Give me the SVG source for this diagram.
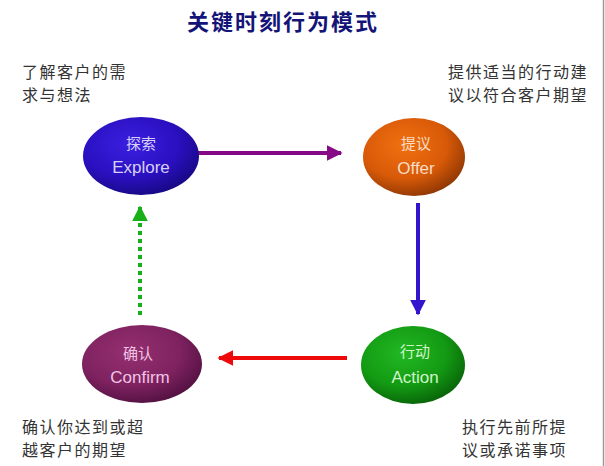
<svg xmlns="http://www.w3.org/2000/svg" width="605" height="466" viewBox="0 0 605 466">
<defs>
<style>
.lbl{font-family:"Liberation Sans","Noto Sans CJK SC",sans-serif;font-size:16px;fill:#333;letter-spacing:1.5px}
.nt{font-family:"Liberation Sans","Noto Sans CJK SC",sans-serif;text-anchor:middle}
.cn{font-size:15px}
.en{font-size:17px}
</style>
<radialGradient id="gE" cx="0.4" cy="0.35" r="0.7"><stop offset="0" stop-color="#3a20e0"/><stop offset="0.6" stop-color="#2a10c0"/><stop offset="1" stop-color="#160880"/></radialGradient>
<radialGradient id="gO" cx="0.4" cy="0.35" r="0.7"><stop offset="0" stop-color="#f07010"/><stop offset="0.6" stop-color="#d85a08"/><stop offset="1" stop-color="#8a3504"/></radialGradient>
<radialGradient id="gC" cx="0.4" cy="0.35" r="0.7"><stop offset="0" stop-color="#953070"/><stop offset="0.6" stop-color="#7f2260"/><stop offset="1" stop-color="#501040"/></radialGradient>
<radialGradient id="gA" cx="0.4" cy="0.35" r="0.7"><stop offset="0" stop-color="#22b822"/><stop offset="0.6" stop-color="#139a13"/><stop offset="1" stop-color="#086008"/></radialGradient>
<marker id="mP" viewBox="0 0 10 10" refX="9" refY="5" markerWidth="4" markerHeight="4" orient="auto" markerUnits="strokeWidth"><path d="M0,0 L10,5 L0,10 z" fill="#860a86"/></marker>
<marker id="mB" viewBox="0 0 10 10" refX="9" refY="5" markerWidth="4" markerHeight="4" orient="auto" markerUnits="strokeWidth"><path d="M0,0 L10,5 L0,10 z" fill="#3414cc"/></marker>
<marker id="mR" viewBox="0 0 10 10" refX="9" refY="5" markerWidth="4" markerHeight="4" orient="auto" markerUnits="strokeWidth"><path d="M0,0 L10,5 L0,10 z" fill="#ee0a0a"/></marker>
<marker id="mG" viewBox="0 0 10 10" refX="9" refY="5" markerWidth="4" markerHeight="4" orient="auto" markerUnits="strokeWidth"><path d="M0,0 L10,5 L0,10 z" fill="#18b018"/></marker>
</defs>
<rect width="605" height="466" fill="#fff"/>
<line x1="603.5" y1="0" x2="603.5" y2="466" stroke="#999" stroke-width="1.5"/>

<text x="283" y="30" text-anchor="middle" style="font-family:'Liberation Sans','Noto Sans CJK SC',sans-serif;font-size:22px;font-weight:bold;fill:#141478;letter-spacing:2px">关键时刻行为模式</text>

<text class="lbl" x="22" y="78">了解客户的需</text>
<text class="lbl" x="22" y="101">求与想法</text>
<text class="lbl" x="448" y="78">提供适当的行动建</text>
<text class="lbl" x="448" y="101">议以符合客户期望</text>
<text class="lbl" x="22" y="433" fill="#555">确认你达到或超</text>
<text class="lbl" x="22" y="456">越客户的期望</text>
<text class="lbl" x="462" y="433">执行先前所提</text>
<text class="lbl" x="462" y="456">议或承诺事项</text>

<g id="connectors" fill="none" stroke-width="4">
<path d="M192,153 H341" stroke="#860a86" marker-end="url(#mP)"/>
<path d="M418,203 V314" stroke="#3414cc" marker-end="url(#mB)"/>
<path d="M347,358 H219" stroke="#ee0a0a" marker-end="url(#mR)"/>
<path d="M140,315 V207" stroke="#18b018" stroke-dasharray="4,4" marker-end="url(#mG)"/>
</g>

<g id="explore">
<ellipse cx="141" cy="156" rx="58" ry="39" fill="url(#gE)"/>
<text class="nt cn" x="141" y="149" fill="#d8d0f8">探索</text>
<text class="nt en" x="141" y="173" fill="#d8d0f8">Explore</text>
</g>
<g id="offer">
<ellipse cx="414" cy="157" rx="51" ry="39" fill="url(#gO)"/>
<text class="nt cn" x="416" y="149" fill="#f8dcc4">提议</text>
<text class="nt en" x="416" y="174" fill="#f8dcc4">Offer</text>
</g>
<g id="confirm">
<ellipse cx="142" cy="364" rx="60" ry="39" fill="url(#gC)"/>
<text class="nt cn" x="138" y="359" fill="#f0c4e4">确认</text>
<text class="nt en" x="140" y="383" fill="#f0c4e4">Confirm</text>
</g>
<g id="action">
<ellipse cx="413" cy="365" rx="52" ry="39" fill="url(#gA)"/>
<text class="nt cn" x="415" y="357" fill="#d0f4c8">行动</text>
<text class="nt en" x="415" y="383" fill="#d0f4c8">Action</text>
</g>
</svg>
